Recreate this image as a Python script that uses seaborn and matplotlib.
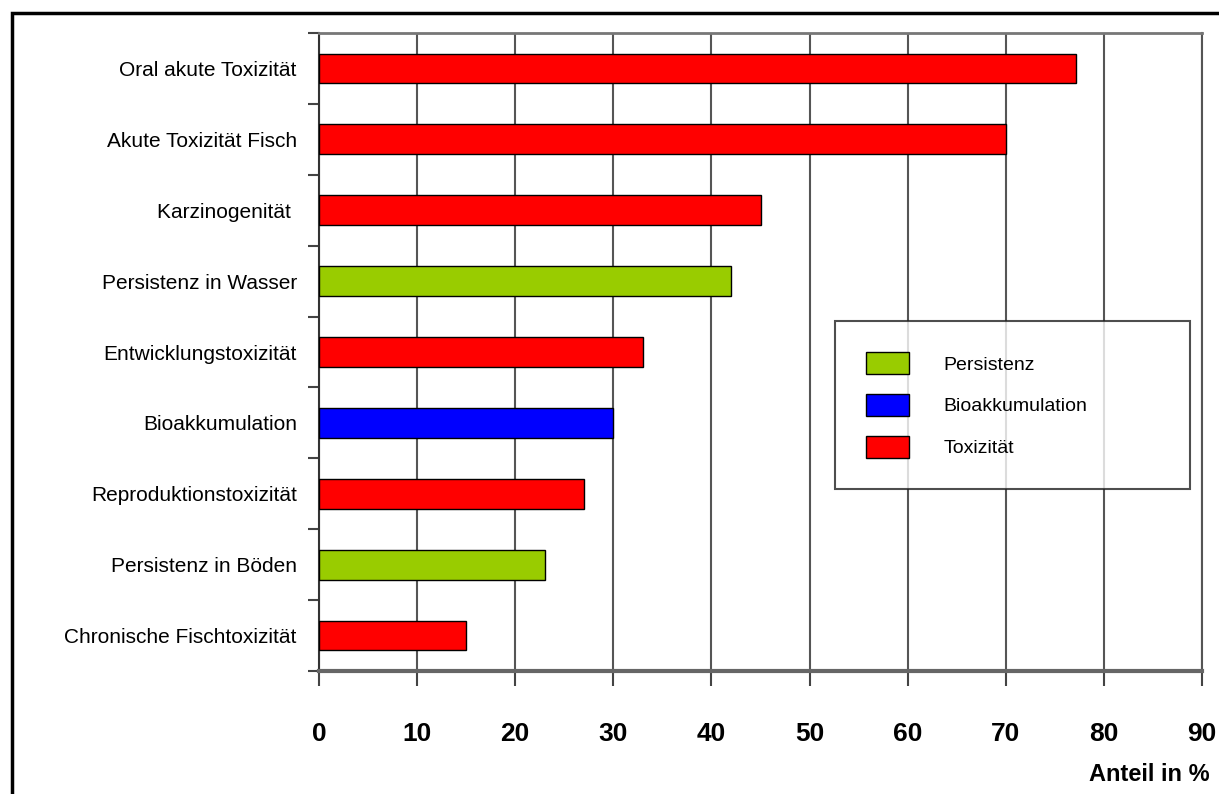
import matplotlib
matplotlib.use("Agg")
import matplotlib.pyplot as plt
from matplotlib import font_manager
from matplotlib.patches import Patch, Rectangle
import seaborn as sns
import pandas as pd

categories = [
    "Oral akute Toxizität",
    "Akute Toxizität Fisch",
    "Karzinogenität ",
    "Persistenz in Wasser",
    "Entwicklungstoxizität",
    "Bioakkumulation",
    "Reproduktionstoxizität",
    "Persistenz in Böden",
    "Chronische Fischtoxizität",
]
values = [77.2, 70, 45, 42, 33, 30, 27, 23, 15]
groups = ["Toxizität", "Toxizität", "Toxizität", "Persistenz", "Toxizität",
          "Bioakkumulation", "Toxizität", "Persistenz", "Toxizität"]
legend_order = ["Persistenz", "Bioakkumulation", "Toxizität"]
palette = {"Persistenz": "#99CC00", "Bioakkumulation": "#0000FF", "Toxizität": "#FF0000"}
xticks = list(range(0, 91, 10))

df = pd.DataFrame({"Kategorie": categories, "Anteil": values, "Gruppe": groups})

sns.set_style("white")
plt.rcParams["font.family"] = ["Liberation Sans", "DejaVu Sans"]
plt.rcParams["text.color"] = "black"
plt.rcParams["xtick.color"] = "black"
plt.rcParams["ytick.color"] = "black"
names = {f.name for f in font_manager.fontManager.ttflist}
narrow = "Liberation Sans Narrow" if "Liberation Sans Narrow" in names else "Liberation Sans"

fig = plt.figure(figsize=(12.19, 7.94), dpi=100)
ax = fig.add_axes([0.2617, 0.1549, 0.7244, 0.8035])

sns.barplot(data=df, x="Anteil", y="Kategorie", hue="Gruppe", palette=palette,
            dodge=False, orient="h", width=0.42, edgecolor="black", linewidth=1,
            saturation=1, legend=False, ax=ax, zorder=3)

ax.set_xlim(0, 90)
ax.set_ylim(len(categories) - 0.5, -0.5)
ax.set_xticks(xticks)
ax.set_xticklabels([str(t) for t in xticks], fontsize=19, fontweight="bold",
                   family=[narrow, "DejaVu Sans"])
ax.tick_params(axis="x", length=11, width=1.5, color="#444444", pad=26, direction="out",
               bottom=True, labelcolor="black")

# labels at bar centres, tick marks only between the categories
ax.set_yticks(range(len(categories)))
ax.set_yticklabels(categories, fontsize=15)
ax.tick_params(axis="y", length=0, pad=16, labelcolor="black")
ax.set_yticks([i - 0.5 for i in range(len(categories) + 1)], minor=True)
ax.tick_params(axis="y", which="minor", length=8, width=1.5, color="#444444", left=True)

ax.grid(axis="x", color="#555555", linewidth=1.5)
ax.grid(axis="y", visible=False)
ax.set_axisbelow(True)

ax.set_ylabel("")
ax.set_xlabel("")
for side in ["left", "top", "right", "bottom"]:
    ax.spines[side].set_visible(True)
ax.spines["left"].set_color("#333333")
ax.spines["left"].set_linewidth(1.5)
ax.spines["top"].set_color("#777777")
ax.spines["top"].set_linewidth(2)
ax.spines["right"].set_color("#555555")
ax.spines["right"].set_linewidth(1.5)
ax.spines["bottom"].set_color("#666666")
ax.spines["bottom"].set_linewidth(3)

fig.text(0.992, 0.024, "Anteil in %", ha="right", va="center", fontsize=17,
         fontweight="bold", family=[narrow, "DejaVu Sans"], color="black")

handles = [Patch(facecolor=palette[g], edgecolor="black", linewidth=1) for g in legend_order]
leg = ax.legend(handles, legend_order, loc="upper left",
                bbox_to_anchor=(0.584, 0.288, 0.402, 0.261), mode="expand",
                borderaxespad=0, fontsize=14, frameon=True, fancybox=False,
                handlelength=2.2, handleheight=1.4, handletextpad=1.8,
                labelspacing=1.0, borderpad=1.6)
leg.get_frame().set_edgecolor("#222222")
leg.get_frame().set_linewidth(1.5)
leg.set_zorder(5)

# outer frame, open to the right and bottom like the source image
fig.patches.append(Rectangle((0.0098, -0.1), 1.2, 1.0836, transform=fig.transFigure,
                             fill=False, edgecolor="black", linewidth=2.5))

fig.savefig("out.png", dpi=100)
